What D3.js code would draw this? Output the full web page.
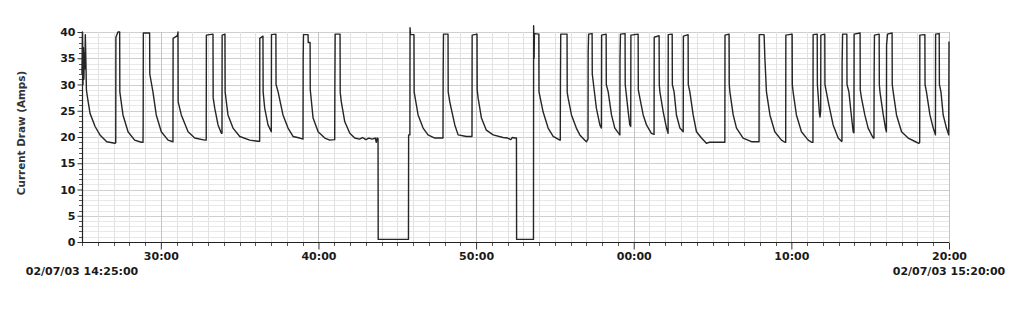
<!DOCTYPE html>
<html><head><meta charset="utf-8">
<script src="https://cdn.jsdelivr.net/npm/d3@7/dist/d3.min.js"></script>
<style>
html,body{margin:0;padding:0;background:#fff;}
svg{display:block;font-family:"DejaVu Sans",Verdana,sans-serif;}
</style></head>
<body>
<script>
// ---- data (minutes after 14:25:00, amps) ----
const startTime = "02/07/03 14:25:00";
const endTime = "02/07/03 15:20:00";
const yTicks = [0,5,10,15,20,25,30,35,40];
const xTickMinutes = [5,15,25,35,45,55];
const xTickLabels = ["30:00","40:00","50:00","00:00","10:00","20:00"];
const trace = [
[0.00,32],[0.03,40],[0.06,30],[0.09,37],[0.12,31],[0.15,36],[0.18,33],[0.21,39.5],[0.25,34],[0.28,29],[0.34,27.7],[0.51,24.5],[0.83,22],[1.14,20.4],[1.57,19.1],[2.09,18.8],[2.14,18.9],
[2.15,39],[2.28,40],[2.39,40],[2.40,28.6],[2.60,24.2],[2.92,21],[3.34,19.4],[3.76,19.0],[3.87,19.0],
[3.88,22.5],[3.89,39.8],[4.29,39.8],[4.30,32],[4.50,28.6],[4.71,24.2],[5.03,21],[5.46,19.4],[5.77,19.1],
[5.78,38.8],[6.05,39.3],[6.09,40],[6.10,26.7],[6.30,24.2],[6.73,21],[7.15,19.8],[7.79,19.4],[7.88,19.4],
[7.89,39.4],[8.31,39.6],[8.32,27.5],[8.42,25.5],[8.63,22.3],[8.84,20.7],[8.88,20.7],
[8.89,39.4],[9.07,39.6],[9.08,28.6],[9.26,24.2],[9.58,21.7],[10.01,20.1],[10.64,19.4],[11.17,19.2],[11.27,19.2],
[11.28,38.8],[11.48,39.2],[11.49,28.6],[11.59,25.5],[11.80,22.3],[12.01,21],
[12.02,39.5],[12.30,39.6],[12.31,30],[12.44,28.6],[12.75,24.2],[13.07,21.7],[13.39,20.1],[13.81,19.8],[14.02,19.6],
[14.03,35],[14.05,39.5],[14.34,39.5],[14.35,38],[14.47,38],[14.48,29],[14.66,23.6],[14.98,21],[15.40,19.8],[15.72,19.4],[16.03,19.5],
[16.04,28.6],[16.06,39.6],[16.37,39.6],[16.38,28.5],[16.45,26.7],[16.67,22.9],[16.99,20.7],[17.30,19.8],[17.6,19.6],[17.8,19.9],[18.0,19.5],[18.2,19.8],[18.4,19.6],[18.6,19.8],[18.67,19.0],[18.72,19.8],[18.78,19.7],
[18.79,0.5],[20.71,0.5],
[20.72,20.4],[20.80,20.4],[20.81,40.8],[20.84,39.5],[21.06,39.5],[21.07,28.6],[21.32,24.2],[21.64,21.7],[21.95,20.4],[22.38,19.8],[22.80,19.8],[22.90,19.8],
[22.91,31],[22.93,39.6],[23.22,39.6],[23.23,28.6],[23.33,26.7],[23.65,22.3],[23.86,20.4],[24.39,20.1],[24.74,20.1],
[24.75,39.4],[25.06,39.6],[25.07,29],[25.13,27.4],[25.34,23.6],[25.65,21.3],[26.08,20.4],[26.71,19.9],[27.0,19.8],[27.2,19.5],[27.3,19.9],[27.46,19.8],[27.56,19.8],
[27.57,0.5],[28.64,0.5],
[28.65,41.2],[28.68,35],[28.70,39.7],[28.98,39.6],[28.99,28.6],[29.25,24.8],[29.57,21.7],[29.89,20.1],[30.31,19.4],[30.34,19.4],
[30.35,30.5],[30.37,39.6],[30.77,39.6],[30.78,28.5],[30.84,27.4],[31.05,24.2],[31.36,21.7],[31.58,20.4],[31.90,19.4],[32.00,19.1],[32.10,19.6],
[32.11,36.2],[32.14,39.6],[32.36,39.7],[32.37,32],[32.53,28],[32.63,25.5],[32.85,22.3],[32.95,21.7],
[32.96,39.4],[33.25,39.6],[33.26,30],[33.38,28.6],[33.59,24.2],[33.80,21.7],[34.12,20.4],
[34.13,35],[34.16,39.6],[34.45,39.7],[34.46,30],[34.65,24.8],[34.75,22.3],[34.81,22.0],
[34.82,39.4],[35.28,39.6],[35.29,29],[35.39,27.4],[35.60,24.2],[35.81,22.3],[36.12,20.7],[36.29,20.5],
[36.30,39.0],[36.61,39.3],[36.62,30],[36.66,28.6],[36.87,24.8],[37.08,21.7],[37.18,20.7],
[37.19,39.5],[37.44,39.6],[37.45,30],[37.56,28.6],[37.71,24.2],[37.93,21.7],[38.14,21],
[38.15,39.2],[38.45,39.5],[38.46,30],[38.56,28.6],[38.77,24.2],[38.98,21],[39.30,19.8],[39.61,18.8],[39.8,19.0],[40.5,19.0],[40.78,19.0],
[40.79,39.4],[41.05,39.6],[41.06,30],[41.10,28.6],[41.31,24.2],[41.52,21.7],[41.94,19.8],[42.47,19.1],[42.89,19.1],[42.95,19.1],
[42.96,39.5],[43.27,39.5],[43.32,35],[43.42,28.6],[43.64,24.2],[43.95,21],[44.37,19.4],[44.59,19.0],[44.64,19.0],
[44.65,39.4],[45.05,39.6],[45.06,30],[45.11,28.6],[45.32,24.2],[45.64,21],[46.07,19.4],[46.28,19.0],[46.37,19.0],
[46.38,39.5],[46.64,39.6],[46.65,30],[46.78,24.5],[46.82,23.8],[46.86,25],[46.87,39.4],[47.12,39.6],[47.13,30],[47.34,26.7],[47.65,22.3],[47.97,19.8],[48.18,19.2],[48.21,19.2],
[48.22,34],[48.25,39.6],[48.52,39.6],[48.53,30],[48.65,28.6],[48.78,24.8],[48.92,21],[48.97,20.8],
[48.98,39.6],[49.36,39.8],[49.37,29],[49.45,27.4],[49.66,24.2],[49.87,21.7],[50.19,19.8],[50.24,19.8],
[50.25,31],[50.27,39.4],[50.57,39.6],[50.58,30],[50.62,28.6],[50.83,24.2],[50.97,21.7],[51.03,21],
[51.04,37.5],[51.10,39.6],[51.39,39.8],[51.40,30],[51.46,28.6],[51.67,24.2],[51.99,21],[52.41,19.8],[52.94,19.0],[53.09,18.8],[53.14,19.0],
[53.15,39.4],[53.47,39.5],[53.48,30],[53.57,28.6],[53.79,24.2],[54.00,21.7],[54.14,20.4],
[54.15,39.6],[54.38,39.7],[54.39,30],[54.49,28.6],[54.63,24.2],[54.84,21.7],[54.98,20.4],[55.0,38.2]
];
const minutes = trace.map(d => d[0]);
const amps = trace.map(d => d[1]);

// ---- layout ----
const W = 1024, H = 309;
const m = {left: 82, right: 75, top: 32, bottom: 67};
const svg = d3.select("body").append("svg").attr("width", W).attr("height", H);
svg.append("rect").attr("width", W).attr("height", H).attr("fill", "#fff");

const x = d3.scaleLinear().domain([0, 55]).range([m.left, W - m.right]);
const y = d3.scaleLinear().domain([0, 40]).range([H - m.bottom, m.top]);

// grid
const g = svg.append("g");
g.selectAll(".hg").data(d3.range(1, 41)).enter().append("line")
  .attr("x1", x(0)).attr("x2", x(55))
  .attr("y1", d => Math.round(y(d)) + 0.5).attr("y2", d => Math.round(y(d)) + 0.5)
  .attr("stroke", d => d % 5 === 0 ? "#cfcfcf" : "#e8e8e8").attr("stroke-width", 1);
g.selectAll(".vg").data(d3.range(1, 56)).enter().append("line")
  .attr("y1", y(0)).attr("y2", y(40))
  .attr("x1", d => Math.round(x(d)) + 0.5).attr("x2", d => Math.round(x(d)) + 0.5)
  .attr("stroke", d => (d + 5) % 10 === 0 ? "#c4c4c4" : "#e2e2e2").attr("stroke-width", 1);

// axes
const yAxis = d3.axisLeft(y).tickValues(yTicks).tickSize(5).tickPadding(2);
const ya = svg.append("g").attr("transform", `translate(${m.left + 0.5},0)`).call(yAxis);
ya.select(".domain").remove();
ya.selectAll("text").attr("font-size", 11).attr("font-weight", "bold").attr("fill", "#1a1a1a")
  .attr("font-family", "'DejaVu Sans',Verdana,sans-serif");
ya.selectAll("line").attr("stroke", "#333");
svg.append("g").selectAll("line").data(d3.range(0, 41).filter(d => d % 5)).enter().append("line")
  .attr("x1", m.left - 3).attr("x2", m.left)
  .attr("y1", d => Math.round(y(d)) + 0.5).attr("y2", d => Math.round(y(d)) + 0.5)
  .attr("stroke", "#555");

const xAxis = d3.axisBottom(x).tickValues(xTickMinutes).tickFormat((d, i) => xTickLabels[i]).tickSize(7).tickPadding(3);
const xa = svg.append("g").attr("transform", `translate(0,${y(0) + 0.5})`).call(xAxis);
xa.select(".domain").remove();
xa.selectAll("text").attr("font-size", 11).attr("font-weight", "bold").attr("fill", "#1a1a1a")
  .attr("font-family", "'DejaVu Sans',Verdana,sans-serif");
xa.selectAll("line").attr("stroke", "#333");
svg.append("g").selectAll("line").data(d3.range(0, 56).filter(d => (d + 5) % 10)).enter().append("line")
  .attr("x1", d => Math.round(x(d)) + 0.5).attr("x2", d => Math.round(x(d)) + 0.5)
  .attr("y1", y(0)).attr("y2", y(0) + 4)
  .attr("stroke", "#555");

svg.append("line").attr("x1", m.left + 0.5).attr("x2", m.left + 0.5).attr("y1", y(40)).attr("y2", y(0))
  .attr("stroke", "#222").attr("stroke-width", 1.2);
svg.append("line").attr("x1", m.left).attr("x2", x(55)).attr("y1", y(0) + 0.5).attr("y2", y(0) + 0.5)
  .attr("stroke", "#222").attr("stroke-width", 1.2);

// date labels, centred under the axis ends
svg.append("text").attr("x", x(0)).attr("y", 275).attr("font-size", 11).attr("font-weight", "bold")
  .attr("fill", "#1a1a1a").attr("text-anchor", "middle").text(startTime);
svg.append("text").attr("x", x(55)).attr("y", 275).attr("font-size", 11).attr("font-weight", "bold")
  .attr("fill", "#1a1a1a").attr("text-anchor", "middle").text(endTime);

// y title
svg.append("text").attr("transform", "translate(25,133) rotate(-90)").attr("text-anchor", "middle")
  .attr("font-size", 10.4).attr("font-weight", "bold").attr("fill", "#333").text("Current Draw (Amps)");

// trace
const line = d3.line().x((d, i) => x(minutes[i])).y((d, i) => y(amps[i]));
svg.append("path").datum(amps).attr("d", line).attr("fill", "none")
  .attr("stroke", "#262626").attr("stroke-width", 1.4).attr("stroke-linejoin", "round");
</script>
</body></html>
